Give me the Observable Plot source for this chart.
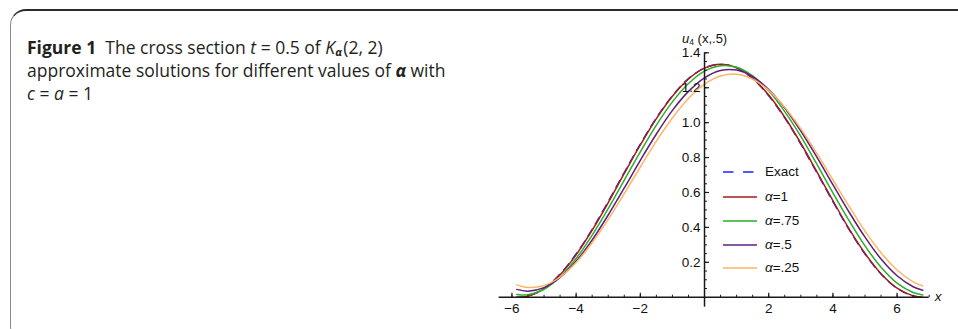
<!DOCTYPE html>
<html><head><meta charset="utf-8">
<script src="https://cdn.jsdelivr.net/npm/d3@7"></script>
<script src="https://cdn.jsdelivr.net/npm/@observablehq/plot@0.6"></script>
<style>
body{margin:0;width:958px;height:329px;overflow:hidden;background:#fff;position:relative;}
#frame{position:absolute;left:10px;top:9px;width:990px;height:333px;border-top:2px solid #2a2a2a;border-left:1.5px solid #8a8a8a;border-bottom:1.5px solid #8a8a8a;border-radius:16px 0 0 16px;box-sizing:border-box;}
#caption{position:absolute;left:27px;top:36px;font-family:"Open Sans",sans-serif;font-size:17.5px;line-height:23px;color:#231f20;white-space:nowrap;}
#caption sub{font-size:11px;line-height:0;vertical-align:-1.5px;margin-right:1.5px;}
#chart{position:absolute;left:0;top:0;}
#ylab{position:absolute;left:682px;top:32px;font-family:"Liberation Sans",Arial,sans-serif;font-size:13px;line-height:14px;color:#111;white-space:nowrap;}
#ylab sub{font-size:8.5px;line-height:0;vertical-align:-2px;}
.leg{position:absolute;left:723px;height:16px;font-family:"Liberation Sans",Arial,sans-serif;font-size:13.5px;line-height:16px;color:#111;white-space:nowrap;}
.leg svg{position:absolute;left:0;top:0;}
.leg span{position:absolute;left:42px;top:0;}
</style></head>
<body>
<div id="frame"></div>
<div id="chart"></div>
<div id="caption"><b>Figure 1</b>&nbsp; The cross section <i>t</i> = 0.5 of <i>K</i><sub><b><i>α</i></b></sub>(2, 2)<br>approximate solutions for different values of <b><i>α</i></b> with<br><i>c</i> = <i>a</i> = 1</div>
<div id="ylab"><i>u</i><sub>4</sub> (x,.5)</div>
<div id="legend"></div>
<script>
// sample positions along x
const xs = [-5.85, -5.5, -5, -4.5, -4, -3.5, -3, -2.5, -2, -1.5, -1, -0.5, 0, 0.5, 1, 1.5, 2, 2.5, 3, 3.5, 4, 4.5, 5, 5.5, 6, 6.5, 6.8];
// series values
const exact = [0.000, 0.007, 0.051, 0.133, 0.248, 0.389, 0.548, 0.714, 0.877, 1.027, 1.154, 1.252, 1.313, 1.333, 1.313, 1.252, 1.154, 1.027, 0.877, 0.714, 0.548, 0.389, 0.248, 0.133, 0.051, 0.007, 0.000];
const alpha1 = [0.000, 0.006, 0.048, 0.129, 0.243, 0.384, 0.542, 0.709, 0.872, 1.023, 1.151, 1.250, 1.312, 1.334, 1.315, 1.255, 1.158, 1.031, 0.882, 0.719, 0.553, 0.393, 0.251, 0.135, 0.052, 0.008, 0.000];
const alpha075 = [0.016, 0.014, 0.046, 0.116, 0.222, 0.356, 0.508, 0.671, 0.833, 0.986, 1.119, 1.224, 1.295, 1.326, 1.317, 1.268, 1.182, 1.063, 0.921, 0.762, 0.598, 0.440, 0.294, 0.172, 0.081, 0.027, 0.013];
const alpha05 = [0.045, 0.035, 0.055, 0.113, 0.206, 0.328, 0.471, 0.626, 0.784, 0.935, 1.070, 1.179, 1.257, 1.299, 1.301, 1.264, 1.190, 1.084, 0.952, 0.803, 0.645, 0.489, 0.344, 0.219, 0.123, 0.060, 0.040];
const alpha025 = [0.071, 0.056, 0.067, 0.116, 0.199, 0.312, 0.446, 0.594, 0.746, 0.894, 1.027, 1.138, 1.220, 1.267, 1.277, 1.249, 1.185, 1.088, 0.965, 0.824, 0.673, 0.522, 0.379, 0.255, 0.156, 0.088, 0.065];

const seriesNames = ["Exact", "α=1", "α=.75", "α=.5", "α=.25"];
const seriesColors = ["#1f1fff", "#a51c1c", "#2aae2a", "#5e1f7a", "#ffb566"];
const seriesValues = [exact, alpha1, alpha075, alpha05, alpha025];

const xDomain = [-6.4, 7.0];
const yDomain = [-0.057, 1.4];
const xMajor = [-6, -4, -2, 2, 4, 6];
const xMinor = [-6, -5.5, -5, -4.5, -4, -3.5, -3, -2.5, -2, -1.5, -1, -0.5, 0.5, 1, 1.5, 2, 2.5, 3, 3.5, 4, 4.5, 5, 5.5, 6, 6.5, 7];
const yMajor = [0.2, 0.4, 0.6, 0.8, 1.0, 1.2, 1.4];
const yMinor = d3.range(1, 29).map(i => +(i * 0.05).toFixed(2));

const tables = seriesValues.map((vals, s) => xs.map((x, i) => ({x, y: vals[i], series: seriesNames[s]})));

const tickUp = len => ({draw(ctx) { ctx.moveTo(0, 0); ctx.lineTo(0, -len); }});
const tickRight = len => ({draw(ctx) { ctx.moveTo(0, 0); ctx.lineTo(len, 0); }});
const axisColor = "#1a1a1a";
const fmt = d => (d < 0 ? "\u2212" : "") + Math.abs(d);

const curveMarks = tables.map((t, s) => Plot.line(t, {
  x: "x", y: "y", stroke: seriesColors[s], strokeWidth: 1.5, curve: "catmull-rom",
  strokeDasharray: s === 0 ? "8,6" : null
}));

const chart = Plot.plot({
  width: 958, height: 329,
  marginLeft: 498.6, marginRight: 29.3, marginTop: 52.3, marginBottom: 22.3,
  x: {domain: xDomain, axis: null},
  y: {domain: yDomain, axis: null},
  style: {background: "transparent", fontFamily: "'Liberation Sans', Arial, sans-serif", fontSize: "13.5px", overflow: "visible"},
  marks: [
    ...curveMarks,
    Plot.ruleY([0], {stroke: axisColor, strokeWidth: 1.5}),
    Plot.ruleX([0], {stroke: axisColor, strokeWidth: 1.5}),
    Plot.dot(xMinor, {x: d => d, y: d => 0, symbol: tickUp(2.5), stroke: axisColor, fill: "none", strokeWidth: 1}),
    Plot.dot(xMajor, {x: d => d, y: d => 0, symbol: tickUp(4.5), stroke: axisColor, fill: "none", strokeWidth: 1.2}),
    Plot.dot(yMinor, {x: d => 0, y: d => d, symbol: tickRight(2.5), stroke: axisColor, fill: "none", strokeWidth: 1}),
    Plot.dot(yMajor, {x: d => 0, y: d => d, symbol: tickRight(4.5), stroke: axisColor, fill: "none", strokeWidth: 1.2}),
    Plot.text(xMajor, {x: d => d, y: d => 0, text: fmt, dy: 11, fill: "#111", fontSize: 13.5}),
    Plot.text(yMajor, {x: d => 0, y: d => d, text: d => d.toFixed(1), textAnchor: "end", dx: -4, fill: "#111", fontSize: 13.5}),
    Plot.text(["x"], {x: () => xDomain[1], y: () => 0, text: d => d, dx: 9, dy: -1, fontStyle: "italic", fill: "#111", fontSize: 13.5})
  ]
});
document.getElementById("chart").appendChild(chart);

// legend
const legendTops = [164, 188.5, 213, 236.5, 260];
const legend = document.getElementById("legend");
seriesNames.forEach((name, s) => {
  const row = document.createElement("div");
  row.className = "leg";
  row.style.top = legendTops[s] + "px";
  const dash = s === 0 ? ' stroke-dasharray="10.5,9.5"' : "";
  const label = name === "Exact" ? "Exact" : name.replace("α", "<i>α</i>");
  row.innerHTML = `<svg width="36" height="16"><line x1="0" x2="34" y1="8" y2="8" stroke="${seriesColors[s]}" stroke-width="1.5"${dash}/></svg><span>${label}</span>`;
  legend.appendChild(row);
});
</script>
</body></html>
